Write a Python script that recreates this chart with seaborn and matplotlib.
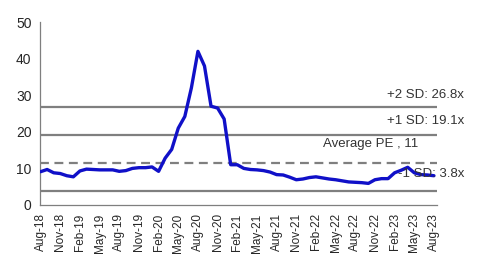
import seaborn as sns
import matplotlib.pyplot as plt
import pandas as pd

# Monthly PE, Aug-18 .. Aug-23 (61 points)
pe = [9.1, 9.7, 8.8, 8.6, 8.0, 7.7, 9.3, 9.8, 9.7, 9.6,
      9.6, 9.6, 9.2, 9.4, 10.0, 10.2, 10.2, 10.4, 9.2, 12.8,
      15.2, 21.0, 24.2, 32.0, 42.0, 38.0, 27.0, 26.5, 23.5, 11.0,
      11.0, 10.0, 9.7, 9.6, 9.4, 9.0, 8.3, 8.2, 7.6, 6.9,
      7.1, 7.5, 7.7, 7.4, 7.1, 6.9, 6.6, 6.3, 6.2, 6.1,
      5.9, 6.9, 7.2, 7.2, 8.8, 9.5, 10.3, 8.8, 8.3, 8.2, 8.0]
tick_labels = ["Aug-18", "Nov-18", "Feb-19", "May-19", "Aug-19", "Nov-19", "Feb-20",
               "May-20", "Aug-20", "Nov-20", "Feb-21", "May-21", "Aug-21", "Nov-21",
               "Feb-22", "May-22", "Aug-22", "Nov-22", "Feb-23", "May-23", "Aug-23"]
avg_pe = 11.4
plus2_sd = 26.8
plus1_sd = 19.1
minus1_sd = 3.8

df = pd.DataFrame({"month": range(len(pe)), "PE": pe})

sns.set_style("white")
plt.rcParams["font.family"] = ["Liberation Sans", "DejaVu Sans"]

fig = plt.figure(figsize=(4.81, 2.54), dpi=100)
ax = fig.add_axes([0.083, 0.193, 0.826, 0.72])

# Band lines
grey = "#7f7f7f"
ax.axhline(plus2_sd, color=grey, lw=1.6, zorder=1)
ax.axhline(plus1_sd, color=grey, lw=1.6, zorder=1)
ax.axhline(avg_pe, color=grey, lw=1.6, ls=(0, (4, 2.5)), zorder=1)
ax.axhline(minus1_sd, color=grey, lw=1.6, zorder=1)

sns.lineplot(data=df, x="month", y="PE", ax=ax, color="#1010c8", lw=2.4, zorder=3)

ax.set_xlim(-0.1, 60.5)
ax.set_ylim(0, 50)
ax.set_yticks(range(0, 51, 10))
ax.set_xticks(range(0, len(pe), 3))
ax.set_xticklabels(tick_labels, rotation=90, fontsize=8.5)
ax.tick_params(axis="y", labelsize=10, length=4, width=0.8, color=grey, pad=2)
ax.tick_params(axis="x", length=4, width=0.8, color=grey, pad=2, direction="out")
ax.set_xlabel("")
ax.set_ylabel("")
sns.despine(ax=ax)
for s in ["left", "bottom"]:
    ax.spines[s].set_color(grey)
    ax.spines[s].set_linewidth(0.9)

# Labels
txt = dict(fontsize=9.5, color="#333333", clip_on=False)
ax.text(64.6, plus2_sd + 1.5, f"+2 SD: {plus2_sd}x", ha="right", va="bottom", **txt)
ax.text(64.6, plus1_sd + 3.8, f"+1 SD: {plus1_sd}x", ha="right", va="center", **txt)
ax.text(50.4, avg_pe + 5.3, f"Average PE , {avg_pe:.0f}", ha="center", va="center", **txt)
ax.text(64.6, minus1_sd + 4.8, f"-1 SD: {minus1_sd}x", ha="right", va="center", **txt)

fig.savefig("out.png", dpi=100)
